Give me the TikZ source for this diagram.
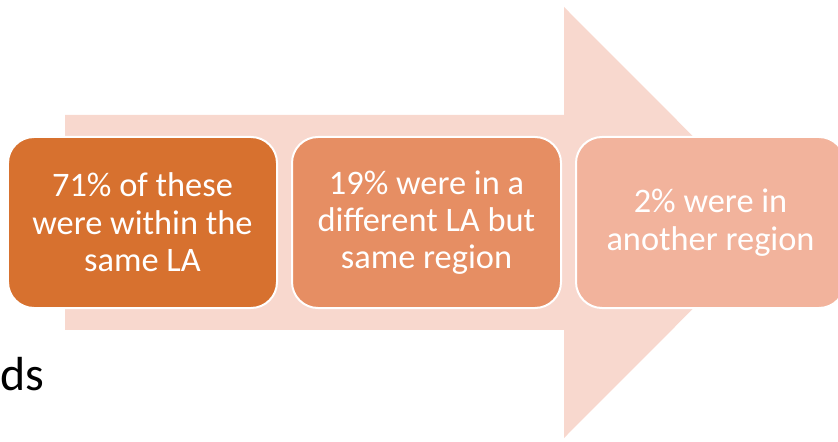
\documentclass[tikz,border=0pt]{standalone}
\usepackage{fontspec}
\setmainfont{Carlito}
\usepackage{tikz}
\usetikzlibrary{positioning}
\definecolor{stageone}{RGB}{215,113,47}
\definecolor{stagetwo}{RGB}{230,142,99}
\definecolor{stagethree}{RGB}{242,179,156}
\definecolor{flowpink}{RGB}{248,216,206}
\tikzstyle{stagebox} = [rectangle,
					  rounded corners=26bp,
					  minimum width=269bp,
					  minimum height=171bp,
					  align=center,
					  draw=white,
					  line width=2bp,
					  text=white,
					  font=\fontsize{34.5}{37.5}\selectfont,
					 ]
\tikzstyle{caption} = [inner sep=0pt,
					  font=\fontsize{48}{50}\selectfont,
					 ]

\begin{document}
\begin{tikzpicture}[x=1bp,y=-1bp]
\useasboundingbox (0,0) rectangle (838,442);
\clip (0,0) rectangle (838,442);

% big arrow behind the boxes
\fill [flowpink] (65,115) -- (564,115) -- (564,7) -- (779,222.5) -- (564,438) -- (564,330) -- (65,330) -- cycle;

\node (sameLA) [stagebox, fill=stageone] at (142.5,222.5) {71\% of these\\were within the\\same LA};
\node (sameregion) [stagebox, fill=stagetwo, right=13bp of sameLA] {19\% were in a\\different LA but\\same region};
\node (otherregion) [stagebox, fill=stagethree, right=13bp of sameregion] {2\% were in\\another region};

\node (tail) [caption, anchor=base west] at (0,390) {ds};

\end{tikzpicture}
\end{document}
